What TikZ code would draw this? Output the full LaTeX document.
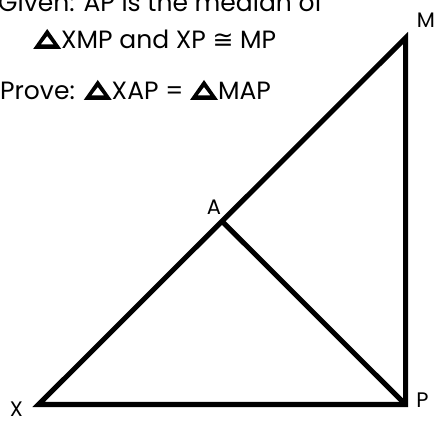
\documentclass[tikz,border=0pt]{standalone}
\usepackage{fontspec}
\usetikzlibrary{calc}
\setmainfont{Poppins}
\newfontfamily\symfont{DejaVu Sans}
\newcommand{\tri}{\tikz[baseline=0pt,x=1pt,y=1pt]{\fill[even odd rule] (0,0)--(28,0)--(14,20)--cycle (7.5,4.5)--(20.5,4.5)--(14,13)--cycle;}}
\begin{document}
\begin{tikzpicture}[x=1pt,y=1pt,
  edge/.style={line width=5pt,line join=miter},
  lbl/.style={font=\fontsize{21}{21}\selectfont,inner sep=0pt},
  txt/.style={font=\fontsize{25}{25}\selectfont,inner sep=0pt,anchor=base west}]
\useasboundingbox (0,0) rectangle (439,423);
\coordinate (X) at (38.5,18.5);
\coordinate (P) at (405.5,18.5);
\coordinate (M) at (405.5,385);
\coordinate (A) at ($(X)!0.5!(M)$);
\draw[edge] (X) -- (P) -- (M) -- cycle;
\draw[edge] (A) -- (P);
\node[lbl] (lx) at (16.5,14) {X};
\node[lbl] (lp) at (422.5,23) {P};
\node[lbl] (lm) at (426,403) {M};
\node[lbl] (la) at (214,216) {A};
\node[txt] (t1) at (-2,411) {Given: AP is the median of};
\node[txt] (t2) at (33,374) {\tri XMP and XP {\symfont ≅} MP};
\node[txt] (t3) at (0,323) {Prove: \tri XAP = \tri MAP};
\end{tikzpicture}
\end{document}
